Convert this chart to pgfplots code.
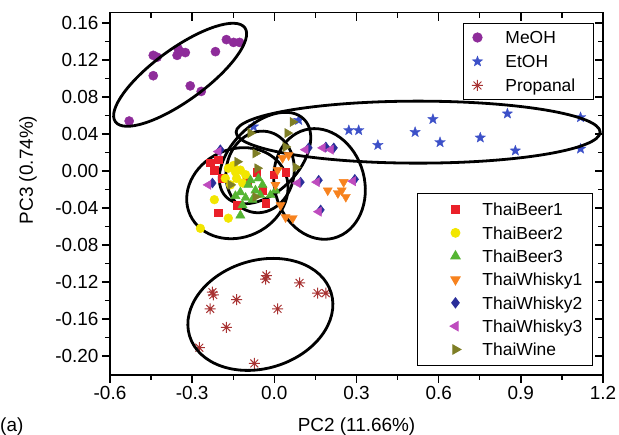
\documentclass[border=0pt]{standalone}
\usepackage{fontspec}
\setmainfont{Liberation Sans}
\usepackage{pgfplots}
\pgfplotsset{compat=1.18}
\usetikzlibrary{shapes.geometric}

\definecolor{meoh}{HTML}{8E2C9A}
\definecolor{etoh}{HTML}{3C50C8}
\definecolor{prop}{HTML}{A83232}
\definecolor{beer1}{HTML}{EA2029}
\definecolor{beer2}{HTML}{F2E600}
\definecolor{beer3}{HTML}{55B533}
\definecolor{whisky1}{HTML}{F7821E}
\definecolor{whisky2}{HTML}{2A2E9A}
\definecolor{whisky3}{HTML}{BE4BBE}
\definecolor{wine}{HTML}{7E7E26}

% filled five-pointed star
\pgfdeclareplotmark{fstar}{%
  \pgfpathmoveto{\pgfpointpolar{90}{\pgfplotmarksize}}%
  \pgfpathlineto{\pgfpointpolar{126}{0.42\pgfplotmarksize}}%
  \pgfpathlineto{\pgfpointpolar{162}{\pgfplotmarksize}}%
  \pgfpathlineto{\pgfpointpolar{198}{0.42\pgfplotmarksize}}%
  \pgfpathlineto{\pgfpointpolar{234}{\pgfplotmarksize}}%
  \pgfpathlineto{\pgfpointpolar{270}{0.42\pgfplotmarksize}}%
  \pgfpathlineto{\pgfpointpolar{306}{\pgfplotmarksize}}%
  \pgfpathlineto{\pgfpointpolar{342}{0.42\pgfplotmarksize}}%
  \pgfpathlineto{\pgfpointpolar{18}{\pgfplotmarksize}}%
  \pgfpathlineto{\pgfpointpolar{54}{0.42\pgfplotmarksize}}%
  \pgfpathclose\pgfusepathqfillstroke}

% eight-armed asterisk
\pgfdeclareplotmark{ast8}{%
  \pgfpathmoveto{\pgfpointpolar{0}{\pgfplotmarksize}}\pgfpathlineto{\pgfpointpolar{180}{\pgfplotmarksize}}%
  \pgfpathmoveto{\pgfpointpolar{45}{\pgfplotmarksize}}\pgfpathlineto{\pgfpointpolar{225}{\pgfplotmarksize}}%
  \pgfpathmoveto{\pgfpointpolar{90}{\pgfplotmarksize}}\pgfpathlineto{\pgfpointpolar{270}{\pgfplotmarksize}}%
  \pgfpathmoveto{\pgfpointpolar{135}{\pgfplotmarksize}}\pgfpathlineto{\pgfpointpolar{315}{\pgfplotmarksize}}%
  \pgfusepathqstroke}

\newcommand\lx[2]{\makebox[#1][l]{#2}}
\newcommand\axfont{\fontsize{19}{22}\selectfont}
\newcommand\lgfont{\fontsize{17.5}{20}\selectfont}

\tikzset{ell/.style={draw, ellipse, line width=2.8bp, inner sep=0pt}}

\pgfplotsset{
  base/.style={
    width=493bp, height=362.3bp, scale only axis,
    xmin=-0.6, xmax=1.2, ymin=-0.2205, ymax=0.1711,
    xtick={-0.6,-0.3,0,0.3,0.6,0.9,1.2},
    ytick={-0.20,-0.16,-0.12,-0.08,-0.04,0,0.04,0.08,0.12,0.16},
    minor x tick num=1, minor y tick num=1,
    axis line style={line width=1.6bp},
    tick style={line width=1.4bp, black},
    major tick length=8bp, minor tick length=5bp,
    clip=false,
  },
}

\begin{document}
\begin{tikzpicture}
\begin{axis}[base,
    tick pos=left, tick align=outside,
    tick label style={font=\axfont},
    xticklabel style={/pgf/number format/.cd, fixed, fixed zerofill, precision=1, assume math mode=true},
    yticklabel style={/pgf/number format/.cd, fixed, fixed zerofill, precision=2, assume math mode=true},
    label style={font=\axfont},
    xlabel={PC2 (11.66\%)},
    ylabel={PC3 (0.74\%)},
    xlabel style={at={([yshift=-56bp]axis description cs:0.5,0)}, anchor=base},
    ylabel style={at={([xshift=-77bp]rel axis cs:0,0.566)}, anchor=base},
    legend image code/.code={\path[draw=none] (-11bp,0) -- (11bp,0); \draw[#1] plot coordinates {(0bp,0bp)};},
    legend cell align=left,
    legend style={at={(rel axis cs:0.716,0.9716)}, anchor=north west,
      draw=black, line width=1bp, fill=white,
      inner xsep=3bp, inner ysep=7.75bp, row sep=11.5bp, /tikz/column sep=17bp,
      nodes={inner sep=0pt, text height=12.5bp, text depth=0pt, font=\lgfont}},
]
\coordinate (SW) at (rel axis cs:0,0);
\coordinate (NE) at (rel axis cs:1,1);

\addplot[only marks, mark=*, color=meoh, mark size=4.6bp] coordinates {
(-0.175,0.142) (-0.149,0.139) (-0.127,0.139) (-0.215,0.129) (-0.351,0.132)
(-0.344,0.129) (-0.325,0.128) (-0.355,0.125) (-0.442,0.125) (-0.428,0.123)
(-0.442,0.103) (-0.307,0.092) (-0.267,0.086) (-0.530,0.054)};

\addplot[only marks, mark=fstar, color=etoh, mark size=5.5bp, mark options={line width=0.3bp}] coordinates {
(-0.076,0.048) (0.089,0.055) (0.272,0.044) (0.308,0.044) (0.378,0.028)
(0.514,0.042) (0.579,0.056) (0.605,0.031) (0.752,0.036) (0.851,0.062)
(0.880,0.022) (1.118,0.058) (1.118,0.024)};

\addplot[only marks, mark=ast8, color=prop, mark size=5.5bp, mark options={line width=1bp}] coordinates {
(-0.032,-0.117) (-0.029,-0.113) (0.092,-0.121) (0.158,-0.132) (0.188,-0.132)
(-0.226,-0.131) (-0.223,-0.134) (-0.138,-0.139) (-0.234,-0.149) (0.012,-0.149)
(-0.175,-0.169) (-0.274,-0.191) (-0.073,-0.208)};

\legend{\lx{85bp}{MeOH}, \lx{85bp}{EtOH}, \lx{85bp}{Propanal}}

\node[anchor=base west, font=\axfont, inner sep=0pt] at ([xshift=-110bp, yshift=-56bp]rel axis cs:0,0) {(a)};
\end{axis}

\begin{axis}[base,
    tick pos=right, tick align=inside,
    xticklabels={}, yticklabels={},
    legend image code/.code={\path[draw=none] (-35bp,0) -- (11bp,0); \draw[#1] plot coordinates {(0bp,0bp)};},
    legend cell align=left,
    legend style={at={(rel axis cs:0.6227,0.5023)}, anchor=north west,
      draw=black, line width=1bp, fill=white,
      inner xsep=3bp, inner ysep=9.75bp, row sep=10.83bp, /tikz/column sep=16bp,
      nodes={inner sep=0pt, text height=12.5bp, text depth=0pt, font=\lgfont}},
]
\addplot[only marks, mark=square*, color=beer1, mark size=3.8bp] coordinates {
(-0.234,0.009) (-0.219,0.001) (-0.204,0.012) (-0.190,-0.008) (-0.065,-0.001)
(-0.043,-0.021) (-0.032,-0.035) (-0.204,-0.045) (-0.135,-0.037) (-0.003,-0.004)
(0.041,-0.001) (-0.098,-0.012)};

\addplot[only marks, mark=*, color=beer2, mark size=4.4bp] coordinates {
(-0.168,0.003) (-0.149,0.006) (-0.124,0.001) (-0.138,-0.008) (-0.160,-0.015)
(-0.105,-0.004) (-0.179,-0.008) (-0.116,-0.013) (-0.219,-0.031) (-0.168,-0.051)
(-0.270,-0.062) (-0.142,-0.001)};

\addplot[only marks, mark=triangle*, color=beer3, mark size=5.3bp] coordinates {
(-0.124,-0.023) (-0.095,-0.015) (-0.069,-0.021) (-0.105,-0.029) (-0.051,-0.026)
(-0.080,-0.031) (-0.142,-0.027) (-0.043,-0.015) (-0.014,-0.026) (-0.116,-0.037)
(-0.124,-0.048) (-0.087,-0.010) (0.004,-0.021) (-0.058,-0.008)};

\addplot[only marks, mark=triangle*, color=whisky1, mark size=5.3bp, mark options={rotate=180}] coordinates {
(0.030,0.014) (0.052,0.017) (0.012,0.001) (0.004,-0.015) (0.195,-0.021)
(0.232,-0.024) (0.253,-0.012) (0.261,-0.028) (0.246,-0.021) (0.041,-0.050)
(0.067,-0.051) (0.023,-0.037)};

\addplot[only marks, mark=diamond*, color=whisky2, mark size=5bp] coordinates {
(0.125,0.025) (0.188,0.026) (0.217,0.025) (0.162,-0.010) (0.096,-0.012)
(0.294,-0.009) (0.169,-0.042) (-0.226,-0.013) (-0.197,0.023)};

\addplot[only marks, mark=triangle*, color=whisky3, mark size=5.3bp, mark options={rotate=90}] coordinates {
(0.114,0.023) (0.177,0.025) (0.206,0.023) (0.155,-0.012) (0.085,-0.013)
(0.287,-0.011) (0.162,-0.044) (-0.241,-0.015) (-0.204,0.021)};

\addplot[only marks, mark=triangle*, color=wine, mark size=5.3bp, mark options={rotate=-90}] coordinates {
(0.067,0.053) (-0.087,0.041) (0.048,0.041) (0.041,0.026) (-0.069,0.019)
(-0.135,0.010) (0.078,0.004) (-0.160,-0.015) (-0.069,-0.028) (-0.062,0.003)};

\legend{\lx{107bp}{ThaiBeer1}, \lx{107bp}{ThaiBeer2}, \lx{107bp}{ThaiBeer3},
        \lx{107bp}{ThaiWhisky1}, \lx{107bp}{ThaiWhisky2}, \lx{107bp}{ThaiWhisky3},
        \lx{107bp}{ThaiWine}}

% group outlines
\node[ell, minimum width=160bp, minimum height=52bp, rotate=36] at (axis cs:-0.344,0.104) {};
\node[ell, minimum width=364bp, minimum height=62bp] at (axis cs:0.525,0.042) {};
\node[ell, minimum width=148bp, minimum height=108bp, rotate=17] at (axis cs:-0.051,-0.155) {};
\node[ell, minimum width=104bp, minimum height=88bp, rotate=25] at (axis cs:-0.135,-0.024) {};
\node[ell, minimum width=82bp, minimum height=68bp, rotate=80] at (axis cs:-0.052,-0.001) {};
\node[ell, minimum width=110bp, minimum height=68bp, rotate=45] at (axis cs:-0.034,0.014) {};
\node[ell, minimum width=112bp, minimum height=90bp, rotate=105] at (axis cs:0.165,-0.014) {};
\end{axis}

\pgfresetboundingbox
\path[use as bounding box] ([shift={(-110bp,-60bp)}]SW) rectangle ([shift={(16bp,12.7bp)}]NE);
\end{tikzpicture}
\end{document}
